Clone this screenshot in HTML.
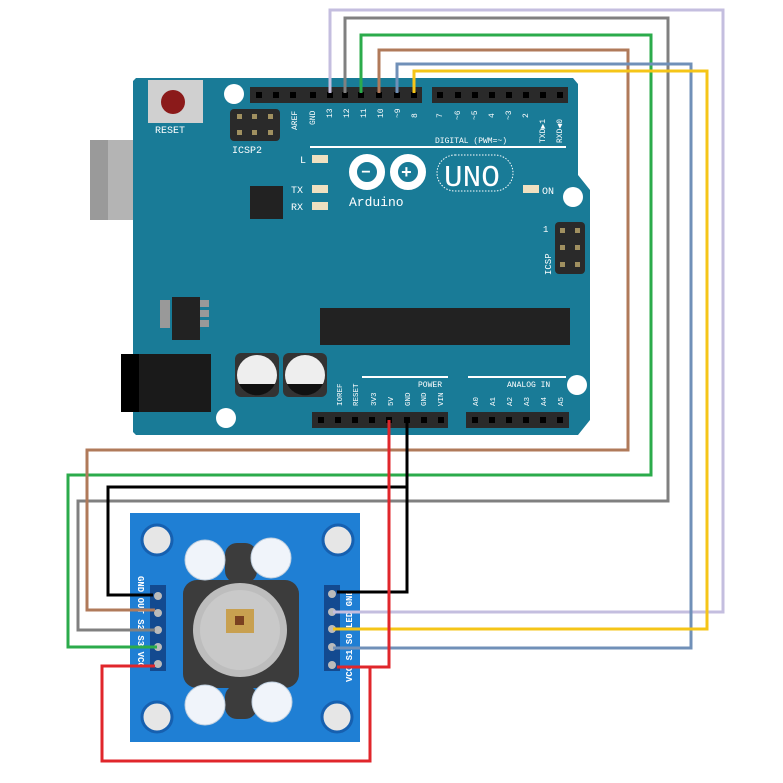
<!DOCTYPE html>
<html><head><meta charset="utf-8"><style>
html,body{margin:0;padding:0;background:#fff;width:783px;height:783px;overflow:hidden}
svg{display:block}
text{font-family:"Liberation Mono",monospace}
</style></head><body>
<svg width="783" height="783" viewBox="0 0 783 783" xmlns="http://www.w3.org/2000/svg">
<!-- USB & jack -->
<rect x="90" y="140" width="106" height="80" fill="#b4b4b4"/>
<rect x="90" y="140" width="18" height="80" fill="#9a9a9a"/>
<rect x="136" y="133" width="10" height="95" fill="#a8a8a8"/>
<!-- board -->
<polygon points="136,78 573,78 578,84 578,175 590,190 590,420 578,435 136,435 133,432 133,81" fill="#197b97"/>
<rect x="121" y="354" width="90" height="58" fill="#1a1a1a"/>
<rect x="121" y="354" width="18" height="58" fill="#000"/>
<!-- holes -->
<circle cx="234" cy="94" r="10" fill="#fff"/>
<circle cx="226" cy="418" r="10" fill="#fff"/>
<circle cx="573" cy="197" r="10" fill="#fff"/>
<circle cx="577" cy="385" r="10" fill="#fff"/>
<!-- reset -->
<rect x="148" y="80" width="55" height="43" fill="#d0d0d0"/>
<circle cx="173" cy="102" r="12" fill="#8b1a1a"/>
<text x="155" y="133" font-size="10" fill="#fff">RESET</text>
<!-- ICSP2 -->
<rect x="230" y="109" width="50" height="32" rx="4" fill="#2a2a2a"/>
<g fill="#a09060"><rect x="237" y="114" width="5" height="5"/><rect x="252" y="114" width="5" height="5"/><rect x="268" y="114" width="5" height="5"/><rect x="237" y="130" width="5" height="5"/><rect x="252" y="130" width="5" height="5"/><rect x="268" y="130" width="5" height="5"/></g>
<text x="232" y="153" font-size="10" fill="#fff">ICSP2</text>
<!-- headers top -->
<rect x="250" y="87" width="172" height="16" fill="#2a2a2a"/>
<rect x="432" y="87" width="136" height="16" fill="#2a2a2a"/>
<g fill="#000">
<rect x="256" y="92" width="6" height="6"/><rect x="273" y="92" width="6" height="6"/><rect x="290" y="92" width="6" height="6"/><rect x="310" y="92" width="6" height="6"/><rect x="327" y="92" width="6" height="6"/><rect x="342" y="92" width="6" height="6"/><rect x="358" y="92" width="6" height="6"/><rect x="376" y="92" width="6" height="6"/><rect x="394" y="92" width="6" height="6"/><rect x="411" y="92" width="6" height="6"/>
<rect x="437" y="92" width="6" height="6"/><rect x="455" y="92" width="6" height="6"/><rect x="472" y="92" width="6" height="6"/><rect x="489" y="92" width="6" height="6"/><rect x="506" y="92" width="6" height="6"/><rect x="523" y="92" width="6" height="6"/><rect x="540" y="92" width="6" height="6"/><rect x="557" y="92" width="6" height="6"/>
</g>
<g font-size="8" fill="#fff">
<text transform="translate(297,130) rotate(-90)">AREF</text>
<text transform="translate(315,125) rotate(-90)">GND</text>
<text transform="translate(332,118) rotate(-90)">13</text>
<text transform="translate(349,118) rotate(-90)">12</text>
<text transform="translate(366,118) rotate(-90)">11</text>
<text transform="translate(383,118) rotate(-90)">10</text>
<text transform="translate(400,118) rotate(-90)">~9</text>
<text transform="translate(417,118) rotate(-90)">8</text>
<text transform="translate(442,118) rotate(-90)">7</text>
<text transform="translate(460,120) rotate(-90)">~6</text>
<text transform="translate(477,120) rotate(-90)">~5</text>
<text transform="translate(494,118) rotate(-90)">4</text>
<text transform="translate(511,120) rotate(-90)">~3</text>
<text transform="translate(528,118) rotate(-90)">2</text>
<text transform="translate(545,143) rotate(-90)">TXD▶1</text>
<text transform="translate(562,143) rotate(-90)">RXD◀0</text>
</g>
<text x="435" y="143" font-size="8" fill="#fff">DIGITAL (PWM=~)</text>
<rect x="310" y="146" width="256" height="2" fill="#fff"/>
<!-- LEDs -->
<g fill="#f0e0c0"><rect x="312" y="155" width="16" height="8"/><rect x="312" y="185" width="16" height="8"/><rect x="312" y="202" width="16" height="8"/><rect x="523" y="185" width="16" height="8"/></g>
<g font-size="10" fill="#fff"><text x="300" y="163">L</text><text x="291" y="193">TX</text><text x="291" y="210">RX</text><text x="542" y="194">ON</text></g>
<rect x="250" y="186" width="33" height="33" fill="#222"/>
<!-- logo -->
<g fill="none" stroke="#fff" stroke-width="8"><circle cx="367" cy="172" r="14"/><circle cx="408" cy="172" r="14"/></g>
<text x="361" y="177" font-size="16" fill="#fff" font-weight="bold">−</text>
<text x="401" y="178" font-size="18" fill="#fff" font-weight="bold">+</text>
<rect x="437" y="155" width="76" height="36" rx="18" fill="none" stroke="#fff" stroke-dasharray="1.5 1.5"/>
<text x="444" y="186" font-size="31" fill="#fff" font-family="Liberation Sans,sans-serif">UNO</text>
<text x="349" y="206" font-size="13" fill="#fff">Arduino</text>
<!-- ICSP -->
<rect x="555" y="222" width="30" height="52" rx="4" fill="#2a2a2a"/>
<g fill="#a09060"><rect x="560" y="228" width="5" height="5"/><rect x="575" y="228" width="5" height="5"/><rect x="560" y="245" width="5" height="5"/><rect x="575" y="245" width="5" height="5"/><rect x="560" y="262" width="5" height="5"/><rect x="575" y="262" width="5" height="5"/></g>
<text transform="translate(551,275) rotate(-90)" font-size="9" fill="#fff">ICSP</text>
<text x="543" y="232" font-size="9" fill="#fff">1</text>
<!-- regulator -->
<rect x="160" y="300" width="10" height="28" fill="#999"/>
<rect x="200" y="300" width="9" height="7" fill="#999"/><rect x="200" y="310" width="9" height="7" fill="#999"/><rect x="200" y="320" width="9" height="7" fill="#999"/>
<rect x="172" y="297" width="28" height="43" fill="#222"/>
<!-- chip -->
<rect x="320" y="308" width="250" height="37" fill="#222"/>
<!-- caps -->
<rect x="235" y="353" width="44" height="44" rx="6" fill="#333"/><rect x="283" y="353" width="44" height="44" rx="6" fill="#333"/>
<circle cx="257" cy="375" r="20" fill="#eee"/><circle cx="305" cy="375" r="20" fill="#eee"/>
<path d="M239,384 A20,20 0 0 0 275,384 Z" fill="#111"/><path d="M287,384 A20,20 0 0 0 323,384 Z" fill="#111"/>
<!-- power headers -->
<rect x="362" y="376" width="86" height="2" fill="#fff"/><rect x="468" y="376" width="98" height="2" fill="#fff"/>
<text x="418" y="387" font-size="8" fill="#fff">POWER</text><text x="507" y="387" font-size="8" fill="#fff">ANALOG IN</text>
<g font-size="7.5" fill="#fff">
<text transform="translate(342,406) rotate(-90)">IOREF</text><text transform="translate(358,406) rotate(-90)">RESET</text><text transform="translate(376,406) rotate(-90)">3V3</text><text transform="translate(393,406) rotate(-90)">5V</text><text transform="translate(410,406) rotate(-90)">GND</text><text transform="translate(426,406) rotate(-90)">GND</text><text transform="translate(443,406) rotate(-90)">VIN</text>
<text transform="translate(478,406) rotate(-90)">A0</text><text transform="translate(495,406) rotate(-90)">A1</text><text transform="translate(512,406) rotate(-90)">A2</text><text transform="translate(529,406) rotate(-90)">A3</text><text transform="translate(546,406) rotate(-90)">A4</text><text transform="translate(563,406) rotate(-90)">A5</text>
</g>
<rect x="312" y="412" width="136" height="16" fill="#2a2a2a"/><rect x="466" y="412" width="103" height="16" fill="#2a2a2a"/>
<g fill="#000"><rect x="318" y="417" width="6" height="6"/><rect x="335" y="417" width="6" height="6"/><rect x="352" y="417" width="6" height="6"/><rect x="369" y="417" width="6" height="6"/><rect x="386" y="417" width="6" height="6"/><rect x="404" y="417" width="6" height="6"/><rect x="421" y="417" width="6" height="6"/><rect x="438" y="417" width="6" height="6"/>
<rect x="472" y="417" width="6" height="6"/><rect x="489" y="417" width="6" height="6"/><rect x="506" y="417" width="6" height="6"/><rect x="523" y="417" width="6" height="6"/><rect x="540" y="417" width="6" height="6"/><rect x="557" y="417" width="6" height="6"/></g>

<!-- sensor board -->
<rect x="130" y="513" width="230" height="229" fill="#1f7fd4"/>
<g fill="#e6e6e6" stroke="#1660b0" stroke-width="3"><circle cx="157" cy="540" r="15"/><circle cx="338" cy="540" r="15"/><circle cx="157" cy="717" r="15"/><circle cx="337" cy="717" r="15"/></g>
<rect x="183" y="580" width="116" height="108" rx="14" fill="#3c3c3c"/>
<rect x="225" y="543" width="32" height="40" rx="12" fill="#3c3c3c"/>
<rect x="225" y="685" width="32" height="34" rx="12" fill="#3c3c3c"/>
<circle cx="240" cy="630" r="47" fill="#bdbdbd"/>
<circle cx="240" cy="630" r="40" fill="#c9c9c9"/>
<rect x="226" y="609" width="28" height="24" fill="#c8a050"/>
<rect x="235" y="616" width="9" height="9" fill="#7a4020"/>
<g fill="#f0f4fa" stroke="#c0d0e0"><circle cx="205" cy="560" r="20"/><circle cx="271" cy="558" r="20"/><circle cx="205" cy="705" r="20"/><circle cx="272" cy="702" r="20"/></g>
<rect x="150" y="585" width="16" height="86" fill="#134a90"/>
<rect x="324" y="585" width="16" height="86" fill="#134a90"/>
<g fill="#bbb"><circle cx="158" cy="596" r="4"/><circle cx="158" cy="613" r="4"/><circle cx="158" cy="630" r="4"/><circle cx="158" cy="647" r="4"/><circle cx="158" cy="664" r="4"/>
<circle cx="332" cy="594" r="4"/><circle cx="332" cy="612" r="4"/><circle cx="332" cy="629" r="4"/><circle cx="332" cy="647" r="4"/><circle cx="332" cy="665" r="4"/></g>
<text transform="translate(138,576) rotate(90)" font-size="9" fill="#fff" font-weight="bold">GND OUT S2 S3 VCC</text>
<text transform="translate(352,682) rotate(-90)" font-size="9" fill="#fff" font-weight="bold">VCC S1 S0 LED GND</text>

<!-- wires -->
<g fill="none" stroke-width="3">
<polyline stroke="#c4bedf" points="330,93 330,10 723,10 723,612 333,612"/>
<polyline stroke="#808080" points="345,93 345,18 668,18 668,501 78,501 78,630 155,630"/>
<polyline stroke="#2bab4b" points="361,93 361,35 651,35 651,475 68,475 68,647 157,647"/>
<polyline stroke="#b07a5a" points="379,93 379,50 628,50 628,450 87,450 87,610 155,610"/>
<polyline stroke="#7090b8" points="397,93 397,64 691,64 691,648 333,648"/>
<polyline stroke="#f5c518" points="414,93 414,71 707,71 707,629 333,629"/>
<polyline stroke="#000" points="407,420 407,487 108,487 108,595 153,595"/>
<polyline stroke="#000" points="407,487 407,592 337,592"/>
<polyline stroke="#e0262b" points="389,420 389,667 337,667"/>
<polyline stroke="#e0262b" points="370,667 370,761 102,761 102,666 155,666"/>
</g>
</svg>
</body></html>
